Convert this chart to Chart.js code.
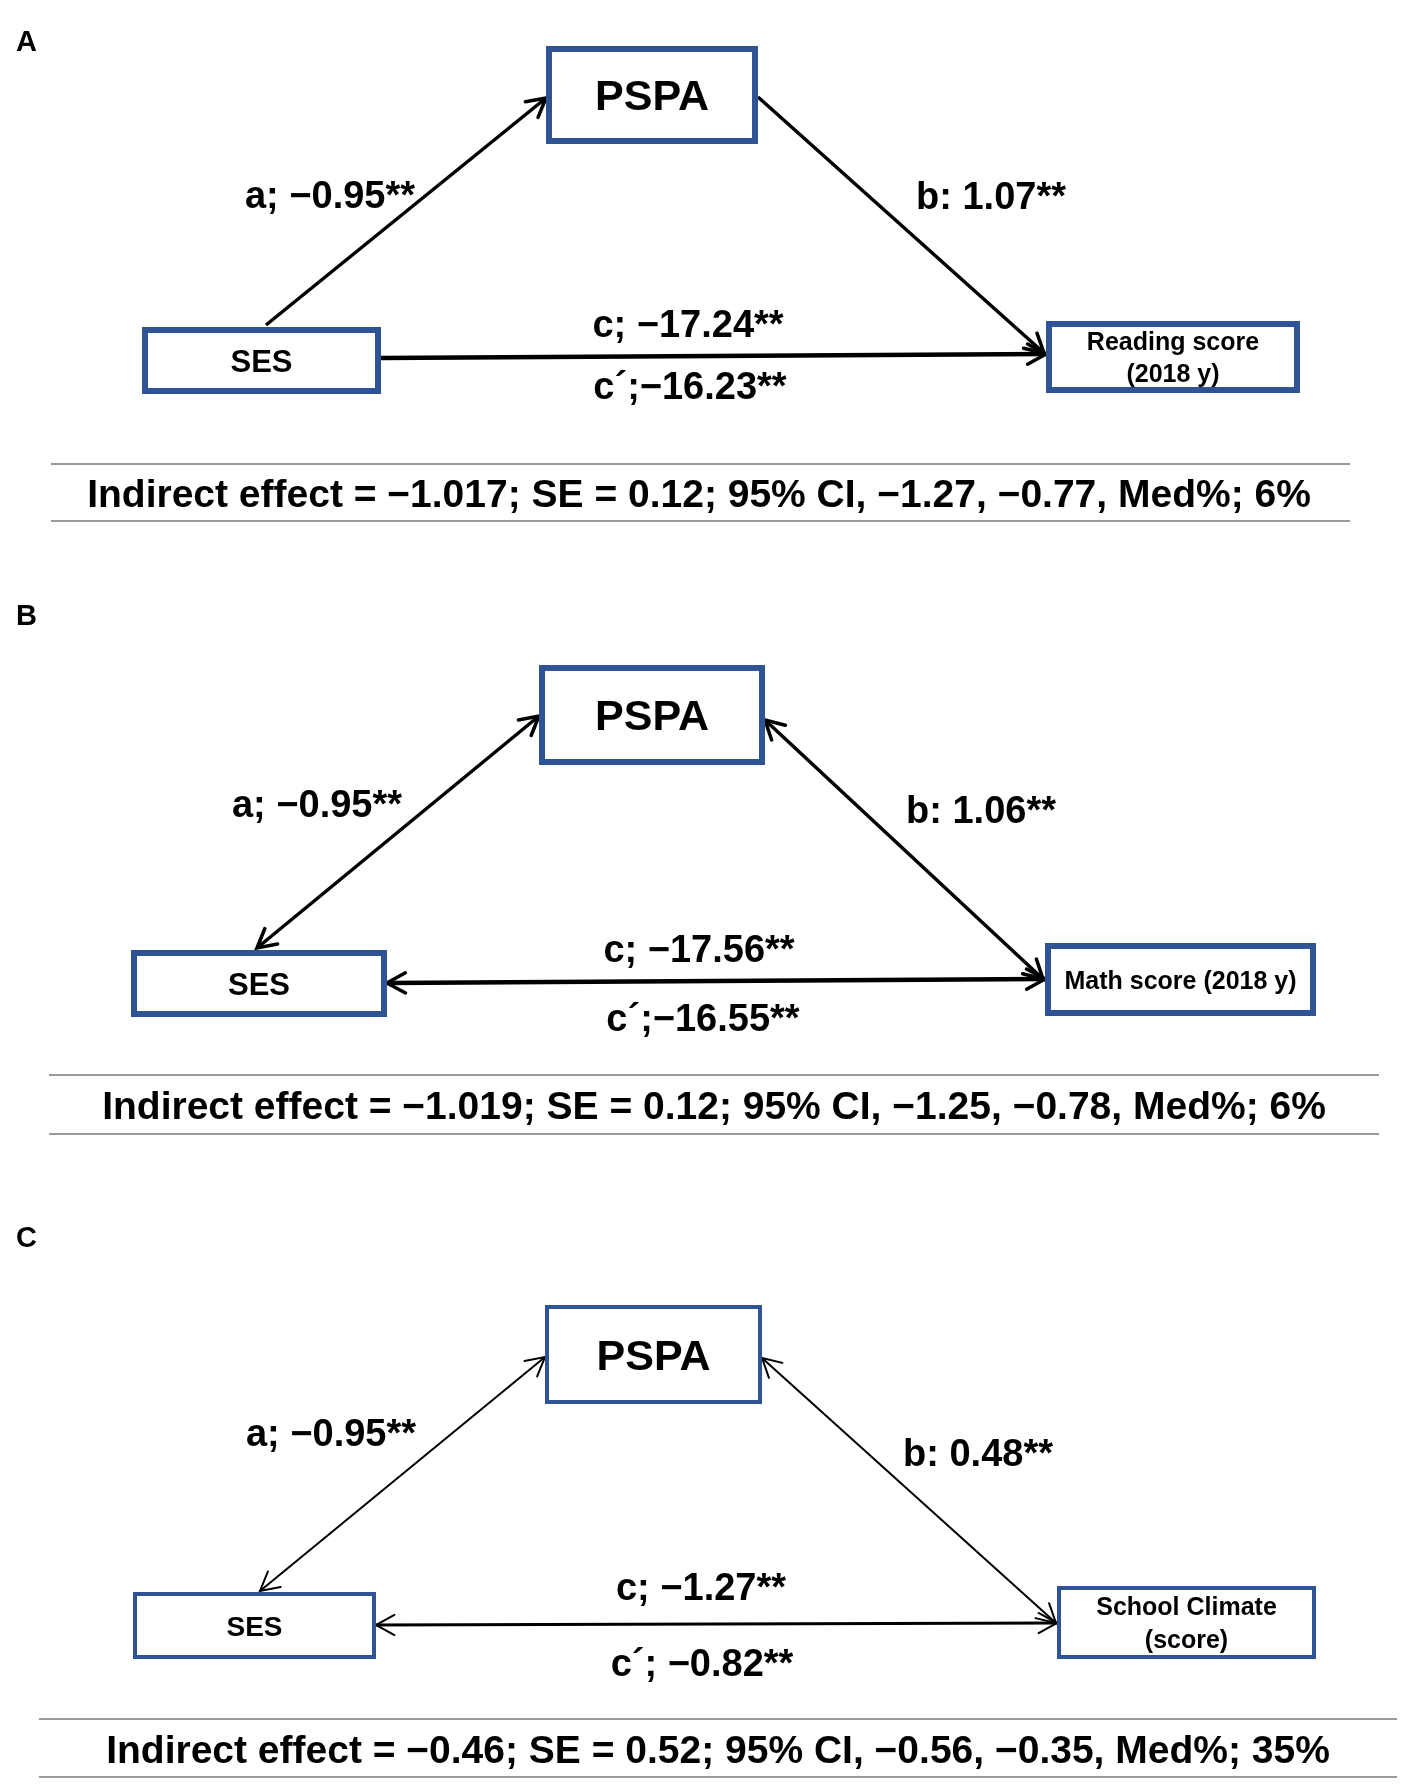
<!DOCTYPE html>
<html>
<head>
<meta charset="utf-8">
<script src="https://cdn.jsdelivr.net/npm/chart.js@4.4.1/dist/chart.umd.min.js"></script>
<style>
  body { margin: 0; background: #fff; }
  #wrap { width: 1406px; height: 1784px; }
</style>
</head>
<body>
<div id="wrap"><canvas id="diagram" width="1406" height="1784"></canvas></div>
<script>
// Mediation results, one entry per panel
const panels = ['A', 'B', 'C'];
const mediator = ['PSPA', 'PSPA', 'PSPA'];
const predictor = ['SES', 'SES', 'SES'];
const outcomes = [['Reading score', '(2018 y)'], ['Math score (2018 y)'], ['School Climate', '(score)']];
const pathA = ['−0.95', '−0.95', '−0.95'];
const pathB = ['1.07', '1.06', '0.48'];
const pathC = ['−17.24', '−17.56', '−1.27'];
const pathCprime = ['−16.23', '−16.55', '−0.82'];
const indirectEffect = ['−1.017', '−1.019', '−0.46'];
const stdError = ['0.12', '0.12', '0.52'];
const ciLower = ['−1.27', '−1.25', '−0.56'];
const ciUpper = ['−0.77', '−0.78', '−0.35'];
const medPercent = ['6', '6', '35'];
const twoWay = [false, true, true];

// Layout of each panel (page units, the scales map them to pixels)
const layout = [
  { letterY: 51, med: [546, 46, 758, 144], pred: [142, 327, 381, 394], out: [1046, 321, 1300, 393],
    a: [[266, 325], [546, 98]], b: [[758, 97], [1044, 353]], c: [[381, 358], [1046, 354]],
    aLab: [330, 208], bLab: [991, 209], cLab: [688, 337], cpLab: [690, 399], cpSep: '',
    rules: [464, 521], ruleX: [51, 1350], indLab: [699, 507],
    box: 6, edge: 3.5, predFont: 31 },
  { letterY: 625, med: [539, 665, 765, 765], pred: [131, 950, 387, 1017], out: [1045, 943, 1316, 1016],
    a: [[257, 948], [539, 716]], b: [[765, 720], [1043, 979]], c: [[387, 983], [1045, 979]],
    aLab: [317, 817], bLab: [981, 823], cLab: [699, 962], cpLab: [703, 1031], cpSep: '',
    rules: [1075, 1134], ruleX: [49, 1379], indLab: [714, 1119],
    box: 6, edge: 3.5, predFont: 31 },
  { letterY: 1247, med: [545, 1305, 762, 1404], pred: [133, 1592, 376, 1659], out: [1057, 1586, 1316, 1659],
    a: [[260, 1591], [545, 1357]], b: [[762, 1358], [1056, 1623]], c: [[376, 1625], [1057, 1623]],
    aLab: [331, 1446], bLab: [978, 1466], cLab: [701, 1600], cpLab: [702, 1676], cpSep: ' ',
    rules: [1719, 1777], ruleX: [39, 1397], indLab: [718, 1763],
    box: 4, edge: 2, predFont: 28 }
];

const BLUE = '#2f5496';
const FONT = '"Liberation Sans", Arial, sans-serif';

// one line dataset per path
const datasets = [];
panels.forEach((p, i) => {
  const L = layout[i];
  ['a', 'b', 'c'].forEach(k => {
    datasets.push({
      label: p + k,
      data: L[k].map(pt => ({ x: pt[0], y: pt[1] })),
      showLine: true,
      borderColor: '#000',
      borderWidth: k === 'c' ? L.edge + 0.8 : L.edge,
      pointRadius: 0,
      panel: i,
      path: k
    });
  });
});

function arrowHead(ctx, x1, y1, x2, y2, size, lw) {
  const ang = Math.atan2(y2 - y1, x2 - x1);
  ctx.save();
  ctx.strokeStyle = '#000';
  ctx.lineWidth = lw;
  ctx.lineCap = 'round';
  ctx.lineJoin = 'miter';
  ctx.beginPath();
  ctx.moveTo(x2 - size * Math.cos(ang - 0.5), y2 - size * Math.sin(ang - 0.5));
  ctx.lineTo(x2, y2);
  ctx.lineTo(x2 - size * Math.cos(ang + 0.5), y2 - size * Math.sin(ang + 0.5));
  ctx.stroke();
  ctx.restore();
}

const diagramPlugin = {
  id: 'diagram',
  afterDatasetsDraw(chart) {
    const ctx = chart.ctx;
    const xs = chart.scales.x, ys = chart.scales.y;
    const px = v => xs.getPixelForValue(v);
    const py = v => ys.getPixelForValue(v);

    const text = (str, x, y, size, align) => {
      ctx.font = 'bold ' + size + 'px ' + FONT;
      ctx.fillStyle = '#000';
      ctx.textAlign = align || 'center';
      ctx.textBaseline = 'alphabetic';
      ctx.fillText(str, px(x), py(y));
    };

    const box = (r, lw, lines, size) => {
      const x0 = px(r[0]), y0 = py(r[1]), x1 = px(r[2]), y1 = py(r[3]);
      ctx.save();
      ctx.fillStyle = '#fff';
      ctx.fillRect(x0, y0, x1 - x0, y1 - y0);
      ctx.strokeStyle = BLUE;
      ctx.lineWidth = lw;
      ctx.strokeRect(x0 + lw / 2, y0 + lw / 2, x1 - x0 - lw, y1 - y0 - lw);
      ctx.restore();
      const cx = (r[0] + r[2]) / 2, cy = (r[1] + r[3]) / 2;
      const gap = size * 1.3;
      lines.forEach((ln, j) => {
        const mid = cy + (j - (lines.length - 1) / 2) * gap;
        text(ln, cx, mid + size * 0.36, size);
      });
    };

    panels.forEach((p, i) => {
      const L = layout[i];
      // arrowheads
      ['a', 'b', 'c'].forEach(k => {
        const [s, e] = L[k];
        arrowHead(ctx, px(s[0]), py(s[1]), px(e[0]), py(e[1]), 21, L.edge);
        if (twoWay[i]) arrowHead(ctx, px(e[0]), py(e[1]), px(s[0]), py(s[1]), 21, L.edge);
      });

      // boxes
      box(L.med, L.box, [mediator[i]], 43);
      box(L.pred, L.box, [predictor[i]], L.predFont);
      box(L.out, L.box, outcomes[i], 25);

      // panel letter
      text(p, 16, L.letterY, 29, 'left');

      // path labels
      text('a; ' + pathA[i] + '**', L.aLab[0], L.aLab[1], 38);
      text('b: ' + pathB[i] + '**', L.bLab[0], L.bLab[1], 38);
      text('c; ' + pathC[i] + '**', L.cLab[0], L.cLab[1], 38);
      text('c´;' + L.cpSep + pathCprime[i] + '**', L.cpLab[0], L.cpLab[1], 38);

      // indirect effect row
      ctx.save();
      ctx.strokeStyle = '#9a9a9a';
      ctx.lineWidth = 2;
      L.rules.forEach(y => {
        ctx.beginPath();
        ctx.moveTo(px(L.ruleX[0]), py(y));
        ctx.lineTo(px(L.ruleX[1]), py(y));
        ctx.stroke();
      });
      ctx.restore();
      text('Indirect effect = ' + indirectEffect[i] + '; SE = ' + stdError[i] + '; 95% CI, ' +
        ciLower[i] + ', ' + ciUpper[i] + ', Med%; ' + medPercent[i] + '%',
        L.indLab[0], L.indLab[1], 39);
    });
  }
};

new Chart(document.getElementById('diagram'), {
  type: 'scatter',
  data: { datasets: datasets },
  options: {
    responsive: false,
    devicePixelRatio: 1,
    animation: false,
    layout: { padding: 0 },
    plugins: { legend: { display: false }, tooltip: { enabled: false } },
    scales: {
      x: { type: 'linear', min: 0, max: 1406, display: false },
      y: { type: 'linear', min: 0, max: 1784, reverse: true, display: false }
    }
  },
  plugins: [diagramPlugin]
});
</script>
</body>
</html>
